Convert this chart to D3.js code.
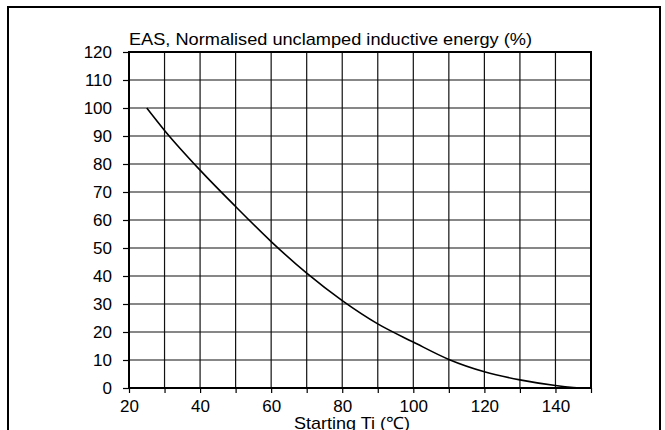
<!DOCTYPE html>
<html><head><meta charset="utf-8">
<script src="https://cdn.jsdelivr.net/npm/d3@7"></script>
<style>
html,body{margin:0;padding:0;background:#fff;}
svg{display:block;font-family:"Liberation Sans",Arial,sans-serif;}
</style></head>
<body>
<svg id="chart" width="665" height="430"></svg>
<script>
const tempC   = [25, 30, 40, 50, 60, 70, 80, 90, 100, 110, 120, 130, 140, 145, 147];
const energy  = [100, 92, 77.8, 64.8, 52.3, 41, 31.2, 22.9, 16.4, 10.2, 5.8, 2.9, 0.9, 0.2, 0];
const xTicks  = [20, 40, 60, 80, 100, 120, 140];
const xGrid   = d3.range(20, 151, 10);
const yTicks  = d3.range(0, 121, 10);
const titleText = "EAS, Normalised unclamped inductive energy (%)";
const xLabel  = "Starting Ti (\u2103)";

const svg = d3.select("#chart");
const L = 129, R = 591, T = 52, B = 388;
const x = d3.scaleLinear().domain([20, 150]).range([L, R]);
const y = d3.scaleLinear().domain([0, 120]).range([B, T]);

// outer frame
svg.append("rect").attr("x", 8).attr("y", 7).attr("width", 652).attr("height", 440)
  .attr("fill", "none").attr("stroke", "#000").attr("stroke-width", 2);

// grid
const g = svg.append("g");
g.selectAll(".vg").data(xGrid).join("line")
  .attr("x1", d => x(d)).attr("x2", d => x(d)).attr("y1", T).attr("y2", B)
  .attr("stroke", "#111").attr("stroke-width", 1.2);
g.selectAll(".hg").data(yTicks).join("line")
  .attr("x1", L).attr("x2", R).attr("y1", d => y(d)).attr("y2", d => y(d))
  .attr("stroke", "#111").attr("stroke-width", 1.2);

// plot border
svg.append("rect").attr("x", L).attr("y", T).attr("width", R - L).attr("height", B - T)
  .attr("fill", "none").attr("stroke", "#000").attr("stroke-width", 2);

// axes
const yAxis = d3.axisLeft(y).tickValues(yTicks).tickSize(6).tickPadding(11).tickFormat(d3.format("d"));
const ay = svg.append("g").attr("transform", `translate(${L},0)`).call(yAxis);
const xAxis = d3.axisBottom(x).tickValues(xGrid).tickSize(5).tickPadding(7)
  .tickFormat(d => xTicks.includes(d) ? d : "");
const ax = svg.append("g").attr("transform", `translate(0,${B})`).call(xAxis);
[ax, ay].forEach(a => {
  a.select(".domain").remove();
  a.selectAll(".tick line").attr("stroke", "#000").attr("stroke-width", 1.2);
  a.selectAll("text").attr("fill", "#000").attr("font-size", 17)
    .attr("font-family", "'Liberation Sans', Arial, sans-serif");
});

// curve
const pts = tempC.map((t, i) => [t, energy[i]]);
svg.append("path").datum(pts)
  .attr("fill", "none").attr("stroke", "#000").attr("stroke-width", 1.6)
  .attr("d", d3.line().x(d => x(d[0])).y(d => y(d[1])).curve(d3.curveMonotoneX));

// title
svg.append("text").attr("x", L).attr("y", 45).attr("font-size", 17).attr("fill", "#000")
  .attr("textLength", 403).attr("lengthAdjust", "spacingAndGlyphs")
  .text(titleText);
// x label
svg.append("text").attr("x", 294).attr("y", 429)
  .attr("font-size", 17).attr("fill", "#000")
  .attr("textLength", 116).attr("lengthAdjust", "spacingAndGlyphs")
  .text(xLabel);
</script>
</body></html>
